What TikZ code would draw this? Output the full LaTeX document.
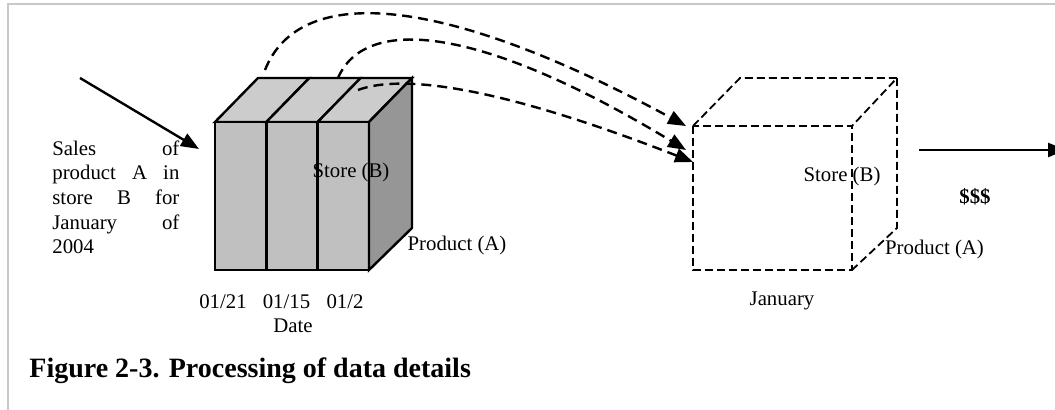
\documentclass[tikz,border=0pt]{standalone}
\usepackage{fontspec}
\setmainfont{Liberation Serif}
\usetikzlibrary{arrows.meta}
\definecolor{frontgray}{HTML}{C0C0C0}
\definecolor{topgray}{HTML}{CCCCCC}
\definecolor{sidegray}{HTML}{969696}
\definecolor{framegray}{HTML}{C8C8C8}
\tikzset{
  lbl/.style={inner sep=0pt, font=\fontsize{10.4}{12.35}\selectfont},
  edge/.style={line width=1.2pt, line join=miter},
  solidarrow/.style={line width=1.2pt, -{Triangle[length=9pt,width=7pt]}},
  flow/.style={line width=1.2pt, dash pattern=on 5pt off 3pt, -{Triangle[length=9pt,width=7pt]}},
  ghost/.style={line width=0.9pt, dash pattern=on 4pt off 2pt},
}
\begin{document}
\begin{tikzpicture}[x=0.5pt,y=-0.5pt]
  \useasboundingbox (0,0) rectangle (1055,410);
  % frame
  \draw[framegray, line width=1pt] (8,420) -- (8,4) -- (1065,4);

  % detail cube, one slice per date
  \foreach \i in {0,1,2} {
    \filldraw[edge, fill=topgray] ({215+51.33*\i},122) -- ++(43,-44) -- ++(51.33,0) -- ({266.33+51.33*\i},122) -- cycle;
    \filldraw[edge, fill=frontgray] ({215+51.33*\i},122) rectangle ++(51.33,148);
  }
  \filldraw[edge, fill=sidegray] (369,122) -- (412,78) -- (412,228) -- (369,270) -- cycle;

  % summary cube
  \draw[ghost] (693,126) rectangle (852,270);
  \draw[ghost] (693,126) -- (740,78) -- (897,78) -- (852,126);
  \draw[ghost] (897,78) -- (897,228) -- (852,270);

  % labels
  \node[lbl, anchor=north west, text width=63.5pt, align=justify] (sales) at (52,140)
    {Sales\hfill of\\ product\hfill A\hfill in\\ store\hfill B\hfill for\\ January\hfill of\\ 2004};
  \node[lbl] (store1) at (351,173) {Store (B)};
  \node[lbl] (prod1) at (457,246) {Product (A)};
  \node[lbl] (d21) at (223,302) {01/21};
  \node[lbl] (d15) at (286.5,302) {01/15};
  \node[lbl] (d2) at (345,302) {01/2};
  \node[lbl] (date) at (293,326) {Date};
  \node[lbl] (store2) at (842,177) {Store (B)};
  \node[lbl] (prod2) at (934.5,250) {Product (A)};
  \node[lbl] (jan) at (782,301) {January};
  \node[lbl, font=\fontsize{10.4}{12.35}\selectfont\bfseries] (money) at (975,197) {\$\$\$};
  \node[anchor=west, inner sep=0pt, font=\fontsize{14}{16}\selectfont\bfseries] (caption) at (29,371)
    {Figure 2-3. Processing of data details};

  % arrows
  \coordinate (in) at (80,78);
  \coordinate (inend) at (199,149);
  \coordinate (s1) at (265,70);
  \coordinate (s2) at (338,78);
  \coordinate (s3) at (358,90);
  \coordinate (t1) at (686,126);
  \coordinate (t2) at (686,150);
  \coordinate (t3) at (693,162);
  \coordinate (out) at (919,150);
  \coordinate (outend) at (1066,150);
  \draw[solidarrow] (in) -- (inend);
  \draw[flow] (s1) .. controls (300,-18) and (445,-5) .. (t1);
  \draw[flow] (s2) .. controls (365,15) and (480,25) .. (t2);
  \draw[flow] (s3) .. controls (390,78) and (470,75) .. (t3);
  \draw[solidarrow] (out) -- (outend);
\end{tikzpicture}
\end{document}
